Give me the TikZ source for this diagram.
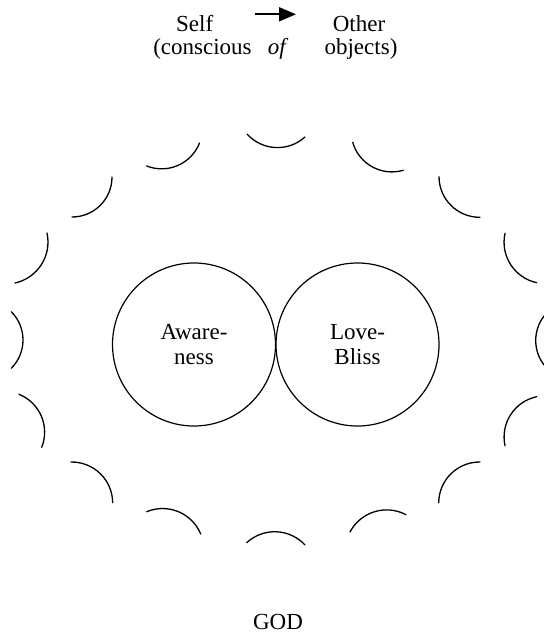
\documentclass[tikz,border=0pt]{standalone}
\usepackage{fontspec}
\setmainfont{Liberation Serif}
\usetikzlibrary{arrows.meta}
\begin{document}
\begin{tikzpicture}[x=0.5pt,y=-0.5pt,
  txt/.style={font=\fontsize{11.5}{12.5}\selectfont, inner sep=0pt, anchor=base},
  circ/.style={circle, draw, line width=0.6pt, minimum size=81.5pt, inner sep=0pt, align=center, font=\fontsize{11.5}{12.5}\selectfont},
  scallop/.style={line width=0.65pt, line cap=round},
  arr/.style={line width=0.9pt, -{Triangle[length=8.5pt,width=7pt]}}]
\clip (0,0) rectangle (544,636);
% top text
\node[txt] (self) at (194.7,31.7) {Self};
\node[txt] (consc) at (202.5,55) {(conscious};
\node[txt] (of) at (276.7,55) {\itshape of};
\node[txt] (other) at (359,31.7) {Other};
\node[txt] (objs) at (361,55) {objects)};
\coordinate (a1) at (255,14.3);
\coordinate (a2) at (296,14.3);
\draw[arr] (a1) -- (a2);
% central circles
\node[circ] (aw) at (194,344.5) {Aware-\\ness};
\node[circ] (lb) at (357.5,344.5) {Love-\\Bliss};
% GOD
\node[txt] (god) at (278,629) {GOD};
% scalloped ring
\coordinate (p1a) at (247,134);   \coordinate (p1b) at (305,137);
\coordinate (p2a) at (352.7,142.3); \coordinate (p2b) at (403.3,170.3);
\coordinate (p3a) at (439,176.7); \coordinate (p3b) at (480,217.3);
\coordinate (p4a) at (505,233.3); \coordinate (p4b) at (536.7,282.7);
\coordinate (p6a) at (536.7,396.7); \coordinate (p6b) at (505,445.7);
\coordinate (p7a) at (480,462);   \coordinate (p7b) at (438.7,502.7);
\coordinate (p8a) at (406,514.7); \coordinate (p8b) at (350,532);
\coordinate (p9a) at (305,545);   \coordinate (p9b) at (246.7,542.7);
\coordinate (p10a) at (200.7,534); \coordinate (p10b) at (146.7,511.7);
\coordinate (p11a) at (112.7,502.7); \coordinate (p11b) at (71,462);
\coordinate (p12a) at (41.7,447.3); \coordinate (p12b) at (19,394.3);
\coordinate (p14a) at (15,283);   \coordinate (p14b) at (47,233);
\coordinate (p15a) at (72,217);   \coordinate (p15b) at (112,177);
\coordinate (p16a) at (146.7,166); \coordinate (p16b) at (199.5,143);
\foreach \i in {1,2,3,4,6,7,8,9,10,11,12,14,15,16}{
  \draw[scallop] (p\i a) to[bend right=45] (p\i b);
}
\draw[scallop] (-17,340) ++(-45:40) arc[start angle=-45,end angle=45,radius=40];
\draw[scallop] (575.7,340.5) ++(135:40) arc[start angle=135,end angle=225,radius=40];
\end{tikzpicture}
\end{document}
